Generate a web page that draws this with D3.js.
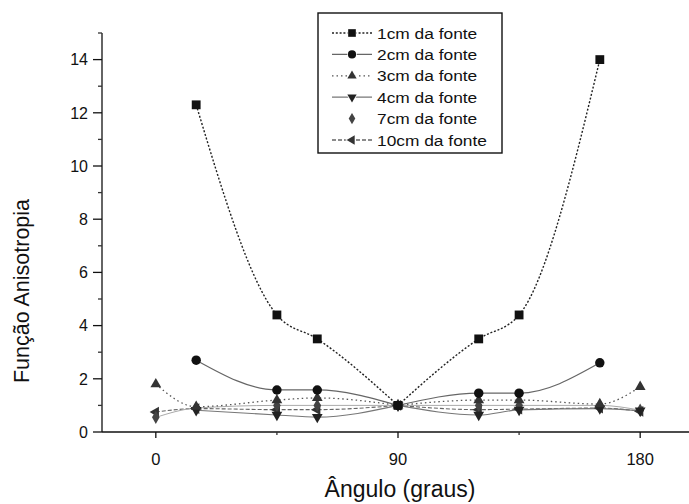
<!DOCTYPE html>
<html><head><meta charset="utf-8">
<script src="https://cdn.jsdelivr.net/npm/d3@7"></script>
<style>
  body { margin: 0; background: #fff; }
  text { font-family: "Liberation Sans", Arial, sans-serif; fill: #111; }
</style>
</head><body>
<svg id="chart" width="689" height="504"></svg>
<script>
// Anisotropy function versus polar angle, one series per source distance
const angles = [0, 15, 45, 60, 90, 120, 135, 165, 180];
const dist1cm  = [null, 12.3, 4.4, 3.5, 1.0, 3.5, 4.4, 14.0, null];
const dist2cm  = [null, 2.7, 1.58, 1.58, 1.0, 1.46, 1.46, 2.6, null];
const dist3cm  = [1.8, 0.95, 1.2, 1.28, 1.0, 1.2, 1.2, 1.05, 1.7];
const dist4cm  = [null, 0.82, 0.64, 0.56, 1.0, 0.64, 0.83, 0.88, 0.8];
const dist7cm  = [0.55, 0.9, 1.0, 1.0, 1.0, 1.0, 1.0, 1.0, 0.82];
const dist10cm = [0.75, 0.88, 0.84, 0.84, 1.0, 0.84, 0.86, 0.9, 0.78];
const seriesNames = ["1cm da fonte", "2cm da fonte", "3cm da fonte", "4cm da fonte", "7cm da fonte", "10cm da fonte"];
const yTicks = [0, 2, 4, 6, 8, 10, 12, 14];
const yMinorTicks = [1, 3, 5, 7, 9, 11, 13, 15];
const xTicks = [0, 90, 180];
const xMinorTicks = [45, 135];
const splitAngle = 90; // each curve is drawn as two branches meeting at 90°

const svg = d3.select("#chart");

const x = d3.scaleLinear().domain([-20, 200]).range([102, 694]);
const y = d3.scaleLinear().domain([0, 15]).range([432, 33]);

const styles = [
  { sym: d3.symbolSquare,   rot: 0,   stroke: "#222", dash: "2,1.8", width: 1.4, fill: "#111", size: 78 },
  { sym: d3.symbolCircle,   rot: 0,   stroke: "#666", dash: null,    width: 1.2, fill: "#111", size: 70 },
  { sym: d3.symbolTriangle, rot: 0,   stroke: "#555", dash: "1.5,3", width: 1.3, fill: "#333", size: 50 },
  { sym: d3.symbolTriangle, rot: 180, stroke: "#777", dash: null,    width: 1.1, fill: "#222", size: 50 },
  { sym: d3.symbolDiamond,  rot: 0,   stroke: "#aaa", dash: null,    width: 1.0, fill: "#444", size: 50 },
  { sym: d3.symbolTriangle, rot: -90, stroke: "#666", dash: "4,2",   width: 1.1, fill: "#333", size: 50 }
];

const allValues = [dist1cm, dist2cm, dist3cm, dist4cm, dist7cm, dist10cm];
const series = allValues.map((vals, i) => ({
  name: seriesNames[i],
  style: styles[i],
  points: angles.map((a, j) => ({ a, v: vals[j] })).filter(p => p.v != null)
}));

// Axes
const g = svg.append("g");
g.append("line").attr("x1", 102).attr("x2", 102).attr("y1", y(15)).attr("y2", y(0))
  .attr("stroke", "#111").attr("stroke-width", 1.3);
g.append("line").attr("x1", 102).attr("x2", 689).attr("y1", y(0)).attr("y2", y(0))
  .attr("stroke", "#111").attr("stroke-width", 1.7);

yTicks.forEach(t => {
  g.append("line").attr("x1", 93).attr("x2", 102).attr("y1", y(t)).attr("y2", y(t))
    .attr("stroke", "#111").attr("stroke-width", 1.3);
  g.append("text").attr("x", 88).attr("y", y(t)).attr("dy", "0.36em")
    .attr("text-anchor", "end").attr("font-size", 16).text(t);
});
yMinorTicks.forEach(t => {
  g.append("line").attr("x1", 98).attr("x2", 102).attr("y1", y(t)).attr("y2", y(t))
    .attr("stroke", "#333").attr("stroke-width", 1.3);
});
xTicks.forEach(t => {
  g.append("line").attr("x1", x(t)).attr("x2", x(t)).attr("y1", y(0)).attr("y2", y(0) + 6)
    .attr("stroke", "#111").attr("stroke-width", 1.3);
  g.append("text").attr("x", x(t)).attr("y", 465).attr("text-anchor", "middle")
    .attr("font-size", 16.5).text(t);
});
xMinorTicks.forEach(t => {
  g.append("line").attr("x1", x(t)).attr("x2", x(t)).attr("y1", y(0)).attr("y2", y(0) + 3)
    .attr("stroke", "#333").attr("stroke-width", 1.3);
});

svg.append("text").attr("x", 400).attr("y", 497).attr("text-anchor", "middle")
  .attr("font-size", 23).text("Ângulo (graus)");
svg.append("text").attr("transform", "translate(29,291) rotate(-90)")
  .attr("text-anchor", "middle").attr("font-size", 21.5).text("Função Anisotropia");

// Series lines: a smooth branch on each side of 90°
const line = d3.line().x(d => x(d.a)).y(d => y(d.v)).curve(d3.curveMonotoneX);
const plot = svg.append("g");
series.slice().reverse().forEach(s => {
  const left = s.points.filter(p => p.a <= splitAngle);
  const right = s.points.filter(p => p.a >= splitAngle);
  [left, right].forEach(branch => {
    plot.append("path").attr("d", line(branch)).attr("fill", "none")
      .attr("stroke", s.style.stroke).attr("stroke-width", s.style.width)
      .attr("stroke-dasharray", s.style.dash);
  });
});

// Markers
series.slice().reverse().forEach(s => {
  const sym = d3.symbol().type(s.style.sym).size(s.style.size);
  plot.selectAll(null).data(s.points).enter().append("path")
    .attr("d", sym)
    .attr("transform", d => `translate(${x(d.a)},${y(d.v)}) rotate(${s.style.rot})`)
    .attr("fill", s.style.fill);
});

// Legend
const lg = svg.append("g");
lg.append("rect").attr("x", 318).attr("y", 13).attr("width", 184).attr("height", 140)
  .attr("fill", "#fff").attr("stroke", "#111").attr("stroke-width", 1.4);
series.forEach((s, i) => {
  const cy = 33 + i * 21.4;
  lg.append("line").attr("x1", 332).attr("x2", 372).attr("y1", cy).attr("y2", cy)
    .attr("stroke", i === 4 ? "none" : s.style.stroke).attr("stroke-width", 1.3)
    .attr("stroke-dasharray", s.style.dash);
  lg.append("path").attr("d", d3.symbol().type(s.style.sym).size(s.style.size * 0.75))
    .attr("transform", `translate(352,${cy}) rotate(${s.style.rot})`)
    .attr("fill", s.style.fill).attr("stroke", "#fff").attr("stroke-width", 1.5)
    .attr("paint-order", "stroke");
  lg.append("text").attr("transform", `translate(377,${cy}) scale(1.12,1)`)
    .attr("dy", "0.36em").attr("font-size", 15.5).text(s.name);
});
</script>
</body></html>
